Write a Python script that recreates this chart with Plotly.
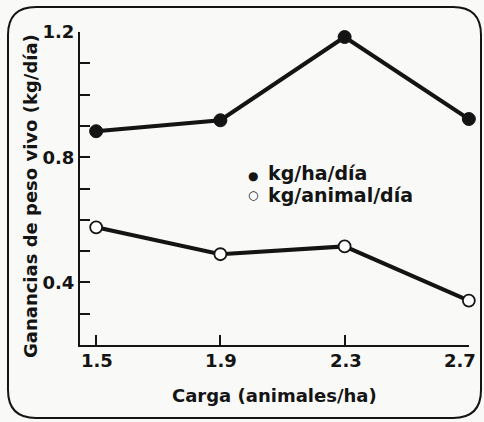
import plotly.graph_objects as go

# Stocking rate (animals/ha) and live-weight gains
carga = [1.5, 1.9, 2.3, 2.7]
kg_ha_dia = [0.883, 0.918, 1.184, 0.922]
kg_animal_dia = [0.576, 0.490, 0.515, 0.342]

x_ticks = [1.5, 1.9, 2.3, 2.7]
x_labels = ["1.5", "1.9", "2.3", "2.7"]
y_ticks = [0.3, 0.4, 0.5, 0.6, 0.7, 0.8, 0.9, 1.0, 1.1, 1.2]
y_labels = ["", "0.4", "", "", "", "0.8", "", "", "", "1.2"]

W, H = 484, 422
ML, MR, MT, MB = 80, 15, 32, 77
PW, PH = W - ML - MR, H - MT - MB

INK = "#141414"
BG = "#f9f9f7"
FONT = dict(family="DejaVu Sans, Verdana, sans-serif", size=18, color=INK, weight="bold")


def px(x):
    return (x - ML) / PW


def py(y):
    return (H - MB - y) / PH


fig = go.Figure()

fig.add_trace(go.Scatter(
    x=carga, y=kg_ha_dia, mode="lines+markers", showlegend=False, cliponaxis=False,
    line=dict(color=INK, width=4),
    marker=dict(size=13, color=INK, line=dict(color=INK, width=1)),
))
fig.add_trace(go.Scatter(
    x=carga, y=kg_animal_dia, mode="lines+markers", showlegend=False, cliponaxis=False,
    line=dict(color=INK, width=4),
    marker=dict(size=12, color="white", line=dict(color=INK, width=1.8)),
))

fig.update_xaxes(
    range=[1.448, 2.7005], tickvals=x_ticks, ticktext=["" for _ in x_ticks],
    ticks="inside", ticklen=10, tickwidth=2, tickcolor=INK,
    showline=True, linewidth=2, linecolor=INK, showgrid=False, zeroline=False,
    tickfont=FONT,
)
fig.update_yaxes(
    range=[0.2, 1.2], tickvals=y_ticks, ticktext=y_labels,
    ticks="inside", ticklen=10, tickwidth=2, tickcolor=INK,
    showline=True, linewidth=2, linecolor=INK, showgrid=False, zeroline=False,
    tickfont=FONT,
)

# x tick labels; the last one is nudged left to stay inside the frame
for i, (v, lab) in enumerate(zip(x_ticks, x_labels)):
    fig.add_annotation(
        text=lab, xref="x", yref="paper", x=v, y=py(360),
        xanchor="center", yanchor="middle", showarrow=False,
        xshift=-9 if i == len(x_ticks) - 1 else 1, font=FONT,
    )

# Axis titles
fig.add_annotation(
    text="Ganancias de peso vivo (kg/día)", textangle=-90,
    xref="paper", yref="paper", x=px(31), y=py(196),
    xanchor="center", yanchor="middle", showarrow=False,
    font=dict(FONT, size=18),
)
fig.add_annotation(
    text="Carga (animales/ha)",
    xref="paper", yref="paper", x=px(274), y=py(395),
    xanchor="center", yanchor="middle", showarrow=False,
    font=dict(FONT, size=18),
)

# Key
for sym, label, yy, ys in [("●", "kg/ha/día", 173, 176), ("○", "kg/animal/día", 195, 195)]:
    fig.add_annotation(
        text=sym, xref="paper", yref="paper", x=px(253), y=py(ys),
        xanchor="center", yanchor="middle", showarrow=False, font=dict(FONT, size=12),
    )
    fig.add_annotation(
        text=label, xref="paper", yref="paper", x=px(266), y=py(yy),
        xanchor="left", yanchor="middle", showarrow=False, font=dict(FONT, size=19),
    )

# Rounded frame around the whole figure
L, R, T, B, r = 8, 481, 7, 418, 28
path = (
    f"M {px(L + r)},{py(T)} L {px(R - r)},{py(T)} "
    f"Q {px(R)},{py(T)} {px(R)},{py(T + r)} "
    f"L {px(R)},{py(B - r)} Q {px(R)},{py(B)} {px(R - r)},{py(B)} "
    f"L {px(L + r)},{py(B)} Q {px(L)},{py(B)} {px(L)},{py(B - r)} "
    f"L {px(L)},{py(T + r)} Q {px(L)},{py(T)} {px(L + r)},{py(T)} Z"
)
fig.add_shape(type="path", path=path, xref="paper", yref="paper",
              line=dict(color=INK, width=2))

fig.update_layout(
    width=W, height=H,
    margin=dict(l=ML, r=MR, t=MT, b=MB),
    paper_bgcolor=BG, plot_bgcolor=BG,
    font=FONT,
)

fig.write_html("out.html")
